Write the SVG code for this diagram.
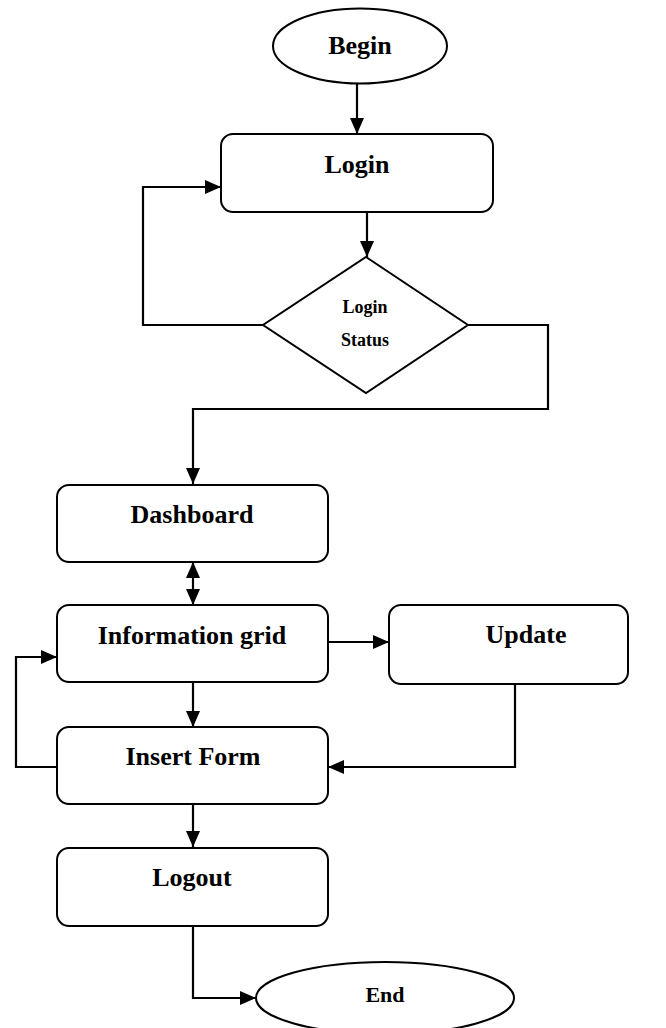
<svg xmlns="http://www.w3.org/2000/svg" width="666" height="1028" viewBox="0 0 666 1028">
<style>
.shape{fill:#fff;stroke:#000;stroke-width:2}
.conn{fill:none;stroke:#000;stroke-width:2.2;marker-end:url(#arr)}
.lbl{font-family:"Liberation Serif","Times New Roman",serif;font-weight:bold;fill:#000;text-anchor:middle}
.big{font-size:26px}
.mid{font-size:22px}
.small{font-size:18px}
</style>
<defs>
<marker id="arr" markerUnits="userSpaceOnUse" markerWidth="16" markerHeight="14" refX="16" refY="7" orient="auto-start-reverse">
<path d="M0,0 L16,7 L0,14 z" fill="#000"/>
</marker>
</defs>
<rect width="666" height="1028" fill="#fff"/>
<g id="connectors">
<path class="conn" d="M357,83 L357,134"/>
<path class="conn" d="M367,212 L367,257"/>
<path class="conn" d="M263,325 L143,325 L143,187 L221,187"/>
<path class="conn" d="M468,325 L548,325 L548,409 L193,409 L193,484"/>
<path class="conn" d="M193,562 L193,605" style="marker-start:url(#arr)"/>
<path class="conn" d="M328,642 L389,642"/>
<path class="conn" d="M193,683 L193,727"/>
<path class="conn" d="M515,684 L515,767 L328,767"/>
<path class="conn" d="M57,767 L16,767 L16,657 L57,657"/>
<path class="conn" d="M193,804 L193,847"/>
<path class="conn" d="M193,926 L193,998 L256,998"/>
</g>
<g id="begin">
<ellipse class="shape" cx="360" cy="46" rx="87" ry="37.5"/>
<text class="lbl big" x="360" y="54">Begin</text>
</g>
<g id="login">
<rect class="shape" x="221" y="134" width="272" height="78" rx="12"/>
<text class="lbl big" x="357" y="173">Login</text>
</g>
<g id="login-status">
<polygon class="shape" points="366,257 468,325 366,393 263,325"/>
<text class="lbl small" x="365" y="313">Login</text>
<text class="lbl small" x="365" y="346">Status</text>
</g>
<g id="dashboard">
<rect class="shape" x="57" y="485" width="271" height="77" rx="12"/>
<text class="lbl big" x="192" y="523">Dashboard</text>
</g>
<g id="information-grid">
<rect class="shape" x="57" y="605" width="271" height="77" rx="12"/>
<text class="lbl big" x="192" y="644">Information grid</text>
</g>
<g id="update">
<rect class="shape" x="389" y="605" width="239" height="79" rx="12"/>
<text class="lbl big" x="526" y="643">Update</text>
</g>
<g id="insert-form">
<rect class="shape" x="57" y="727" width="271" height="77" rx="12"/>
<text class="lbl big" x="193" y="765">Insert Form</text>
</g>
<g id="logout">
<rect class="shape" x="57" y="848" width="271" height="78" rx="12"/>
<text class="lbl big" x="192" y="886">Logout</text>
</g>
<g id="end">
<ellipse class="shape" cx="385" cy="998" rx="129" ry="36"/>
<text class="lbl mid" x="385" y="1002">End</text>
</g>
</svg>
